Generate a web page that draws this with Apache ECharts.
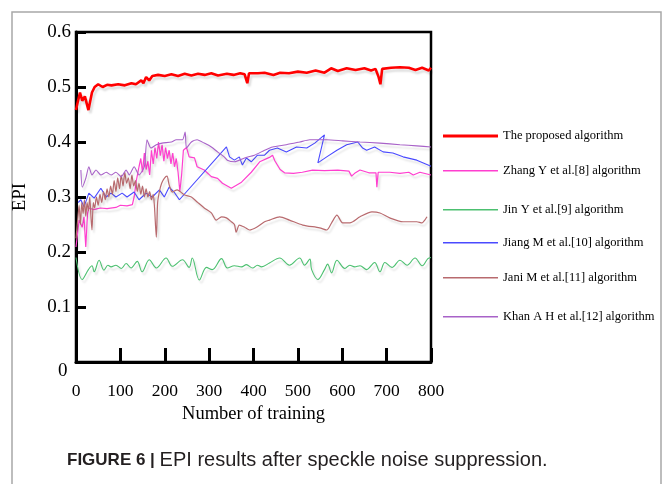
<!DOCTYPE html>
<html><head><meta charset="utf-8">
<script src="https://cdn.jsdelivr.net/npm/echarts@6/dist/echarts.min.js"></script>
<style>html,body{margin:0;padding:0;background:#fff}#c{width:665px;height:484px}</style>
</head><body><div id="c"></div>
<script>
const seriesNames = ['The proposed algorithm','Zhang Y et al.[8] algorithm','Jin Y et al.[9] algorithm','Jiang M et al.[10] algorithm','Jani M et al.[11] algorithm','Khan A H et al.[12] algorithm'];
const xTickValues = [0,100,200,300,400,500,600,700,800];
const yTickValues = [0,0.1,0.2,0.3,0.4,0.5,0.6];

const proposed = [[0,0.458],[4,0.473],[9,0.49],[14,0.475],[20,0.483],[28,0.458],[36,0.49],[42,0.50],[50,0.505],[60,0.50],[70,0.504],[80,0.503],[95,0.505],[110,0.503],[125,0.507],[135,0.505],[147,0.512],[152,0.507],[158,0.518],[165,0.512],[172,0.52],[185,0.522],[200,0.52],[215,0.523],[230,0.52],[245,0.524],[260,0.521],[275,0.524],[290,0.522],[305,0.525],[320,0.521],[340,0.524],[355,0.522],[370,0.525],[380,0.523],[386,0.507],[390,0.525],[410,0.525],[425,0.526],[445,0.522],[460,0.526],[480,0.525],[500,0.528],[520,0.526],[540,0.53],[560,0.526],[575,0.534],[590,0.529],[610,0.534],[630,0.531],[650,0.534],[665,0.53],[675,0.533],[682,0.518],[686,0.505],[690,0.533],[710,0.535],[730,0.536],[750,0.535],[765,0.531],[780,0.535],[795,0.53],[800,0.535]];

const zhang = [[0,0.209],[7,0.258],[14,0.245],[18,0.264],[22,0.209],[26,0.27],[29,0.28],[40,0.277],[55,0.28],[70,0.279],[90,0.281],[100,0.285],[115,0.284],[127,0.286],[131,0.30],[136,0.33],[142,0.355],[146,0.37],[150,0.345],[154,0.38],[158,0.35],[162,0.365],[166,0.34],[170,0.385],[174,0.36],[178,0.39],[182,0.37],[186,0.40],[190,0.375],[194,0.395],[198,0.365],[202,0.39],[206,0.37],[210,0.385],[214,0.36],[218,0.38],[222,0.355],[226,0.37],[230,0.345],[234,0.31],[238,0.34],[242,0.385],[249,0.39],[255,0.373],[267,0.371],[273,0.355],[289,0.349],[305,0.337],[319,0.334],[330,0.325],[350,0.316],[373,0.327],[395,0.345],[414,0.364],[436,0.372],[443,0.376],[448,0.366],[460,0.35],[470,0.344],[490,0.343],[510,0.345],[533,0.349],[560,0.348],[590,0.349],[615,0.347],[621,0.338],[628,0.343],[640,0.349],[660,0.344],[676,0.344],[678,0.318],[681,0.345],[707,0.345],[730,0.343],[750,0.345],[760,0.34],[775,0.345],[800,0.34]];

const jin = [[0,0.19],[14,0.15],[28,0.168],[36,0.175],[41,0.164],[52,0.185],[63,0.167],[72,0.176],[79,0.173],[90,0.176],[102,0.17],[113,0.179],[124,0.171],[138,0.183],[149,0.164],[165,0.186],[181,0.171],[203,0.189],[217,0.174],[240,0.186],[255,0.172],[262,0.189],[278,0.149],[294,0.172],[307,0.168],[328,0.188],[341,0.171],[357,0.175],[373,0.173],[384,0.177],[398,0.171],[409,0.176],[418,0.173],[436,0.18],[459,0.189],[481,0.176],[504,0.189],[515,0.176],[527,0.187],[531,0.168],[545,0.15],[560,0.168],[567,0.178],[576,0.162],[588,0.185],[606,0.17],[617,0.176],[628,0.173],[640,0.175],[655,0.168],[673,0.181],[685,0.164],[696,0.181],[712,0.172],[730,0.185],[746,0.176],[764,0.189],[780,0.175],[793,0.188],[800,0.19]];

const jiang = [[5,0.29],[11,0.295],[18,0.282],[29,0.307],[41,0.298],[56,0.316],[68,0.30],[79,0.307],[90,0.30],[104,0.307],[115,0.30],[131,0.309],[142,0.295],[158,0.307],[172,0.30],[188,0.313],[199,0.30],[210,0.318],[221,0.309],[233,0.295],[339,0.391],[346,0.373],[357,0.367],[368,0.373],[375,0.358],[384,0.371],[395,0.364],[409,0.376],[425,0.376],[436,0.385],[454,0.389],[474,0.382],[497,0.391],[520,0.389],[538,0.398],[560,0.413],[545,0.362],[565,0.373],[588,0.385],[610,0.395],[635,0.40],[646,0.389],[655,0.385],[673,0.391],[692,0.382],[714,0.38],[737,0.373],[768,0.367],[800,0.356]];

const jani = [[0,0.225],[4,0.26],[7,0.285],[10,0.25],[13,0.29],[16,0.27],[19,0.295],[22,0.265],[25,0.29],[28,0.275],[31,0.3],[34,0.26],[36,0.24],[39,0.29],[42,0.28],[46,0.3],[50,0.285],[54,0.305],[58,0.29],[62,0.31],[66,0.295],[70,0.315],[74,0.3],[78,0.32],[82,0.305],[86,0.33],[90,0.31],[94,0.335],[98,0.315],[102,0.34],[106,0.32],[110,0.345],[114,0.325],[118,0.335],[122,0.315],[126,0.34],[130,0.32],[134,0.33],[138,0.31],[142,0.325],[146,0.305],[150,0.32],[154,0.3],[158,0.315],[162,0.3],[166,0.31],[170,0.295],[174,0.305],[177,0.28],[181,0.227],[184,0.29],[188,0.31],[193,0.325],[199,0.334],[205,0.338],[210,0.322],[217,0.309],[228,0.313],[244,0.304],[260,0.30],[273,0.291],[289,0.28],[305,0.271],[316,0.258],[328,0.264],[339,0.262],[350,0.255],[357,0.25],[361,0.236],[368,0.249],[380,0.245],[391,0.24],[407,0.245],[425,0.255],[436,0.258],[459,0.264],[481,0.258],[511,0.249],[549,0.244],[565,0.24],[576,0.253],[588,0.267],[601,0.253],[617,0.253],[640,0.264],[667,0.273],[685,0.271],[707,0.262],[737,0.255],[768,0.255],[780,0.253],[786,0.258],[791,0.264]];

const khan = [[11,0.349],[14,0.318],[22,0.334],[29,0.355],[36,0.34],[45,0.349],[56,0.34],[68,0.345],[79,0.34],[90,0.345],[102,0.337],[113,0.349],[120,0.34],[131,0.355],[142,0.34],[154,0.355],[160,0.404],[169,0.389],[181,0.395],[194,0.398],[215,0.40],[226,0.404],[240,0.404],[246,0.418],[249,0.389],[260,0.40],[273,0.404],[289,0.398],[305,0.391],[319,0.382],[334,0.373],[341,0.367],[357,0.364],[380,0.371],[402,0.376],[425,0.385],[443,0.391],[474,0.395],[504,0.40],[527,0.404],[565,0.404],[601,0.402],[640,0.40],[685,0.398],[730,0.395],[768,0.393],[800,0.391]];

const seriesData = [proposed, zhang, jin, jiang, jani, khan];
const colors = ['#ff0000','#ff3fcf','#4cc070','#4a4aff','#b86a6e','#a862c8'];
const widths = [2.6,1.2,1.1,1.1,1.2,1.1];
const smooths = [false,false,0.35,false,0.25,0.2];
const legendCenters = [131,165,204,237,272,311];
const legendIconHeights = [3,1.5,1.5,1.5,1.5,1.5];

const serif = '"Liberation Serif","DejaVu Serif",serif';
const sans = '"Liberation Sans",Arial,sans-serif';
const chart = echarts.init(document.getElementById('c'));
chart.setOption({
  animation:false,
  backgroundColor:'#fff',
  grid:{left:76,right:234,top:32,bottom:122,show:true,borderColor:'#000',borderWidth:2.5,backgroundColor:'transparent'},
  xAxis:{type:'value',min:0,max:800,interval:100,
    name:'Number of training',nameLocation:'middle',nameGap:39,
    nameTextStyle:{fontFamily:serif,fontSize:18.5,color:'#000'},
    axisLine:{show:true,onZero:false,lineStyle:{color:'#000',width:3}},
    axisTick:{show:true,inside:true,length:14,lineStyle:{color:'#000',width:3}},
    axisLabel:{margin:20,fontFamily:serif,fontSize:17.5,color:'#000',formatter:v=>xTickValues.includes(v)?String(v):''},
    splitLine:{show:false}},
  yAxis:{type:'value',min:0,max:0.6,interval:0.1,
    name:'EPI',nameLocation:'middle',nameGap:46,nameRotate:90,
    nameTextStyle:{fontFamily:serif,fontSize:18.5,color:'#000'},
    axisLine:{show:true,lineStyle:{color:'#000',width:3}},
    axisTick:{show:true,inside:true,length:10,lineStyle:{color:'#000',width:3}},
    axisLabel:{margin:5,fontFamily:serif,fontSize:19,color:'#000',showMinLabel:false,
      formatter:v=>yTickValues.some(t=>Math.abs(t-v)<1e-9)?(+v).toFixed(1):''},
    splitLine:{show:false}},
  legend: seriesNames.map((n,i)=>({data:[n],left:438,top:legendCenters[i]-5-legendIconHeights[i]/2,orient:'vertical',
    icon:'rect',itemWidth:55,itemHeight:legendIconHeights[i],selectedMode:false,
    textStyle:{fontFamily:serif,fontSize:12.5,color:'#000'}})),
  graphic:[
    {type:'rect',shape:{x:12,y:12,width:649,height:520},style:{fill:'none',stroke:'#a8a8a8',lineWidth:1.5},silent:true,z:-10},
    {type:'text',left:58,top:362,style:{text:'0',font:'19px '+serif,fill:'#000'}},
    {type:'text',left:67,top:450,style:{text:'{b|FIGURE 6 | }{n|EPI results after speckle noise suppression.}',
      rich:{b:{fontFamily:sans,fontWeight:'bold',fontSize:17,fill:'#231f20'},
            n:{fontFamily:sans,fontSize:20,fill:'#231f20'}}}}
  ],
  series: seriesNames.map((n,i)=>({name:n,type:'line',data:seriesData[i],symbol:'none',smooth:smooths[i],
    z: i===0?10:3,
    lineStyle:{color:colors[i],width:widths[i],shadowColor:'rgba(0,0,0,0.13)',shadowOffsetX:2,shadowOffsetY:3,shadowBlur:2},
    itemStyle:{color:colors[i]}}))
});
</script></body></html>
